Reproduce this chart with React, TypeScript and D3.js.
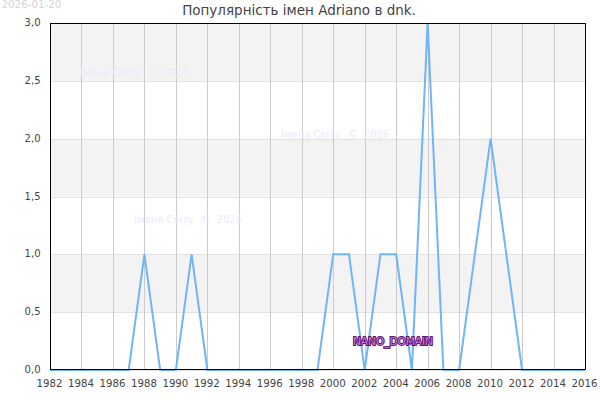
import React from "react";
import * as d3 from "d3";

const years = [1982,1983,1984,1985,1986,1987,1988,1989,1990,1991,1992,1993,1994,1995,1996,1997,1998,1999,2000,2001,2002,2003,2004,2005,2006,2007,2008,2009,2010,2011,2012,2013,2014,2015,2016];
const counts = [0,0,0,0,0,0,1,0,0,1,0,0,0,0,0,0,0,0,1,1,0,1,1,0,3,0,0,1,2,1,0,0,0,0,0];
const xTicks = [1982,1984,1986,1988,1990,1992,1994,1996,1998,2000,2002,2004,2006,2008,2010,2012,2014,2016];
const yTicks = [0,0.5,1,1.5,2,2.5,3];
const bands = [[0.5,1],[1.5,2],[2.5,3]];
const watermarks = [[80,76],[281,138],[134,223]];
const titleText = "Популярність імен Adriano в dnk.";
const dateText = "2026-01-20";
const wmText = "Імена Світу  ©  2026";
const domainText = "NANO_DOMAIN";

const font = "'DejaVu Sans', sans-serif";
const L = 50, R = 585, T = 23, B = 370;

export default function App() {
  const x = d3.scaleLinear().domain([1982, 2016]).range([L, R]);
  const y = d3.scaleLinear().domain([0, 3]).range([B, T]);
  const line = d3.line<number>().x((_, i) => x(years[i])).y((d) => y(d));
  const fmt = (v: number) => v.toFixed(1).replace(".", ",");
  return (
    <svg width={600} height={400} style={{ position: "fixed", left: 0, top: 0 }} fontFamily={font}>
      <rect x={0} y={0} width={600} height={400} fill="#fff" />
      {bands.map(([a, b]) => (
        <rect key={a} x={L} y={y(b)} width={R - L} height={y(a) - y(b)} fill="#f3f3f3" />
      ))}
      {yTicks.map((t) => (
        <line key={t} x1={L} x2={R} y1={Math.round(y(t)) + 0.5} y2={Math.round(y(t)) + 0.5} stroke="#e2e2e2" />
      ))}
      {xTicks.map((t) => (
        <line key={t} x1={Math.round(x(t)) + 0.5} x2={Math.round(x(t)) + 0.5} y1={T} y2={B} stroke="#cccccc" />
      ))}
      {watermarks.map(([wx, wy]) => (
        <text key={wx} x={wx} y={wy} fontSize={10} fill="#ebebfb" style={{ whiteSpace: "pre" }}>{wmText}</text>
      ))}
      <path d={line(counts) ?? ""} fill="none" stroke="#70b4fb" strokeWidth={2} strokeLinejoin="miter" />
      <rect x={L + 0.5} y={T + 0.5} width={R - L} height={B - T - 1} fill="none" stroke="#000" />
      {yTicks.map((t) => (
        <text key={t} x={40.5} y={y(t) + 3} fontSize={10} textAnchor="end" fill="#444">{fmt(t)}</text>
      ))}
      {xTicks.map((t) => (
        <text key={t} x={x(t) - 0.5} y={387} fontSize={10.2} textAnchor="middle" fill="#444">{t}</text>
      ))}
      <text x={299} y={15} fontSize={13.5} textAnchor="middle" fill="#444">{titleText}</text>
      <text x={1.5} y={8} fontSize={10.3} fill="#d4d4d4">{dateText}</text>
      <text x={353} y={345} fontSize={10.5} fill="#c77ad0" stroke="#5e1468" strokeWidth={2} paintOrder="stroke">{domainText}</text>
    </svg>
  );
}
